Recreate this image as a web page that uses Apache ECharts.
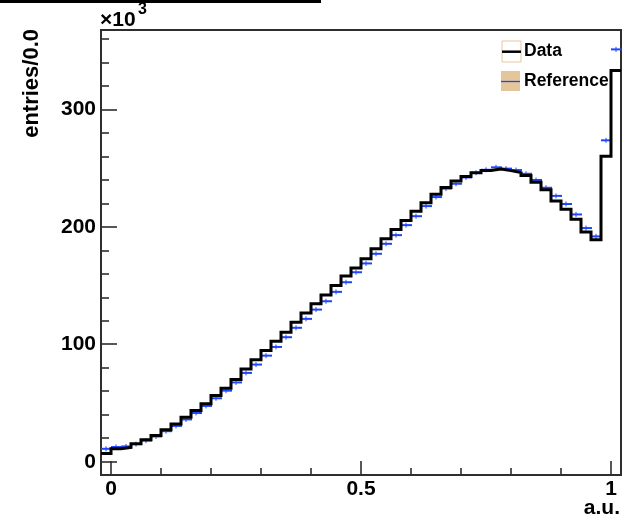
<!DOCTYPE html>
<html><head><meta charset="utf-8">
<script src="https://cdn.jsdelivr.net/npm/echarts@6/dist/echarts.min.js"></script>
<style>html,body{margin:0;padding:0;background:#fff}#c{width:631px;height:520px}</style>
</head><body><div id="c"></div>
<script>
// histogram binning (x in a.u.)
const binLow = -0.02;
const binWidth = 0.02;
// Data histogram, entries per bin in units of 10^3 (52 bins: -0.02 .. 1.02)
const dataValues = [
  7, 11, 12.2, 15.3, 18.7, 22.4, 27.3, 32.1, 37.8, 43.5, 49.4, 56.3, 62.5, 70,
  79, 86.9, 94.6, 102.5, 110.2, 118.7, 126.7, 134.4, 142, 150, 158, 165,
  172.8, 181.3, 189.8, 197.7, 205.4, 213.3, 220.5, 227.6, 233.5, 239, 242.7, 246,
  248, 249.2, 247.8, 246.1, 243.7, 238, 231.5, 222, 214.9, 206.4, 195.6, 189,
  260, 333
];
// Reference histogram, same binning
const refValues = [
  11, 12.5, 13, 15, 18, 21.5, 26, 30.5, 36, 41.5, 47.5, 54, 60.5, 67.5,
  75.6, 82.7, 90.3, 97.7, 106, 114, 121.6, 129.5, 136.6, 144.6, 152.8, 161.3,
  168.8, 177, 185.5, 192.9, 201.4, 209, 217.6, 225.3, 232.5, 236.6, 242, 246,
  248.5, 250.6, 249.5, 248.3, 245.1, 239.8, 233.2, 226.3, 219.4, 210.5, 198.9, 191.8,
  273.6, 351
];
const xMajorTicks = [0, 0.5, 1];
const xMinorTicks = [0.1, 0.2, 0.3, 0.4, 0.6, 0.7, 0.8, 0.9];
const yMajorTicks = [0, 100, 200, 300];
const yMinorTicks = [20, 40, 60, 80, 120, 140, 160, 180, 220, 240, 260, 280, 320, 340, 360];
const xRange = [-0.02, 1.02];
const yRange = [-11.3, 367.5];

const FONT = "'Liberation Sans', Arial, Helvetica, sans-serif";
const FRAME = '#2e2e2e';
const TAN = '#e3c79b';
const BLUE = '#1f46ff';

const dataOutline = [];
dataValues.forEach((v, i) => {
  const lo = binLow + i * binWidth, hi = lo + binWidth;
  dataOutline.push([lo, v], [hi, v]);
});
const refBins = refValues.map((v, i) => {
  const lo = binLow + i * binWidth;
  return [lo, lo + binWidth, v];
});

const chart = echarts.init(document.getElementById('c'), null, {renderer: 'canvas'});
const tickStyle = {color: FRAME, width: 1.6};
chart.setOption({
  animation: false,
  backgroundColor: '#fff',
  grid: {left: 101, top: 30, right: 10, bottom: 45, show: true, borderColor: FRAME, borderWidth: 2, backgroundColor: '#fff'},
  xAxis: [
    {type: 'value', min: xRange[0], max: xRange[1], position: 'bottom',
     axisLine: {show: false, onZero: false},
     axisTick: {show: true, inside: true, length: 14, customValues: xMajorTicks, lineStyle: tickStyle},
     axisLabel: {show: true, customValues: xMajorTicks, margin: 4, fontSize: 21, fontWeight: 'bold', fontFamily: FONT, color: '#000'},
     splitLine: {show: false}},
    {type: 'value', min: xRange[0], max: xRange[1], position: 'bottom',
     axisLine: {show: false, onZero: false},
     axisTick: {show: true, inside: true, length: 7, customValues: xMinorTicks, lineStyle: tickStyle},
     axisLabel: {show: false}, splitLine: {show: false}}
  ],
  yAxis: [
    {type: 'value', min: yRange[0], max: yRange[1], position: 'left',
     axisLine: {show: false, onZero: false},
     axisTick: {show: true, inside: true, length: 16, customValues: yMajorTicks, lineStyle: tickStyle},
     axisLabel: {show: true, customValues: yMajorTicks, margin: 5, fontSize: 21, fontWeight: 'bold', fontFamily: FONT, color: '#000'},
     splitLine: {show: false}},
    {type: 'value', min: yRange[0], max: yRange[1], position: 'left',
     axisLine: {show: false, onZero: false},
     axisTick: {show: true, inside: true, length: 8, customValues: yMinorTicks, lineStyle: tickStyle},
     axisLabel: {show: false}, splitLine: {show: false}}
  ],
  series: [
    {type: 'custom', name: 'Reference', xAxisIndex: 0, yAxisIndex: 0, z: 2,
     data: refBins, encode: {x: [0, 1], y: 2},
     renderItem: function (params, api) {
       const lo = api.value(0), hi = api.value(1), v = api.value(2);
       const p1 = api.coord([lo, v]), p2 = api.coord([hi, v]);
       const pm = api.coord([(lo + hi) / 2, v]);
       return {type: 'group', children: [
         {type: 'line', shape: {x1: p1[0], y1: p1[1], x2: p2[0] + 1, y2: p2[1]}, style: {stroke: BLUE, lineWidth: 2}},
         {type: 'line', shape: {x1: pm[0], y1: pm[1] - 2.5, x2: pm[0], y2: pm[1] + 2.5}, style: {stroke: BLUE, lineWidth: 1}}
       ]};
     }},
    {type: 'line', name: 'Data', xAxisIndex: 0, yAxisIndex: 0, z: 3,
     data: dataOutline, showSymbol: false, symbol: 'none', clip: false,
     lineStyle: {color: '#000', width: 3, join: 'miter'}}
  ],
  graphic: [
    {type: 'rect', shape: {x: 0, y: 0, width: 321, height: 3}, style: {fill: '#000'}},
    {type: 'text', x: 100, y: 20, style: {text: '×10', font: 'bold 21px ' + FONT, fill: '#000', align: 'left', verticalAlign: 'middle'}},
    {type: 'text', x: 138, y: 10, style: {text: '3', font: 'bold 16px ' + FONT, fill: '#000', align: 'left', verticalAlign: 'middle'}},
    {type: 'text', x: 32, y: 29, rotation: Math.PI / 2, style: {text: 'entries/0.0', font: 'bold 22px ' + FONT, fill: '#000', align: 'right', verticalAlign: 'middle'}},
    {type: 'text', x: 620, y: 508, style: {text: 'a.u.', font: 'bold 21px ' + FONT, fill: '#000', align: 'right', verticalAlign: 'middle'}},
    // legend
    {type: 'rect', z: 10, shape: {x: 502, y: 41, width: 19, height: 21}, style: {fill: '#fff', stroke: TAN, lineWidth: 1}},
    {type: 'line', z: 11, shape: {x1: 502, y1: 51.7, x2: 521, y2: 51.7}, style: {stroke: '#000', lineWidth: 2.5}},
    {type: 'text', z: 11, x: 524, y: 51, style: {text: 'Data', font: 'bold 17.5px ' + FONT, fill: '#000', align: 'left', verticalAlign: 'middle'}},
    {type: 'rect', z: 10, shape: {x: 501, y: 71, width: 19, height: 20}, style: {fill: TAN}},
    {type: 'line', z: 11, shape: {x1: 501, y1: 81.5, x2: 520, y2: 81.5}, style: {stroke: BLUE, lineWidth: 1.3}},
    {type: 'text', z: 11, x: 524, y: 81, style: {text: 'Reference', font: 'bold 17.5px ' + FONT, fill: '#000', align: 'left', verticalAlign: 'middle'}}
  ]
});
</script>
</body></html>
